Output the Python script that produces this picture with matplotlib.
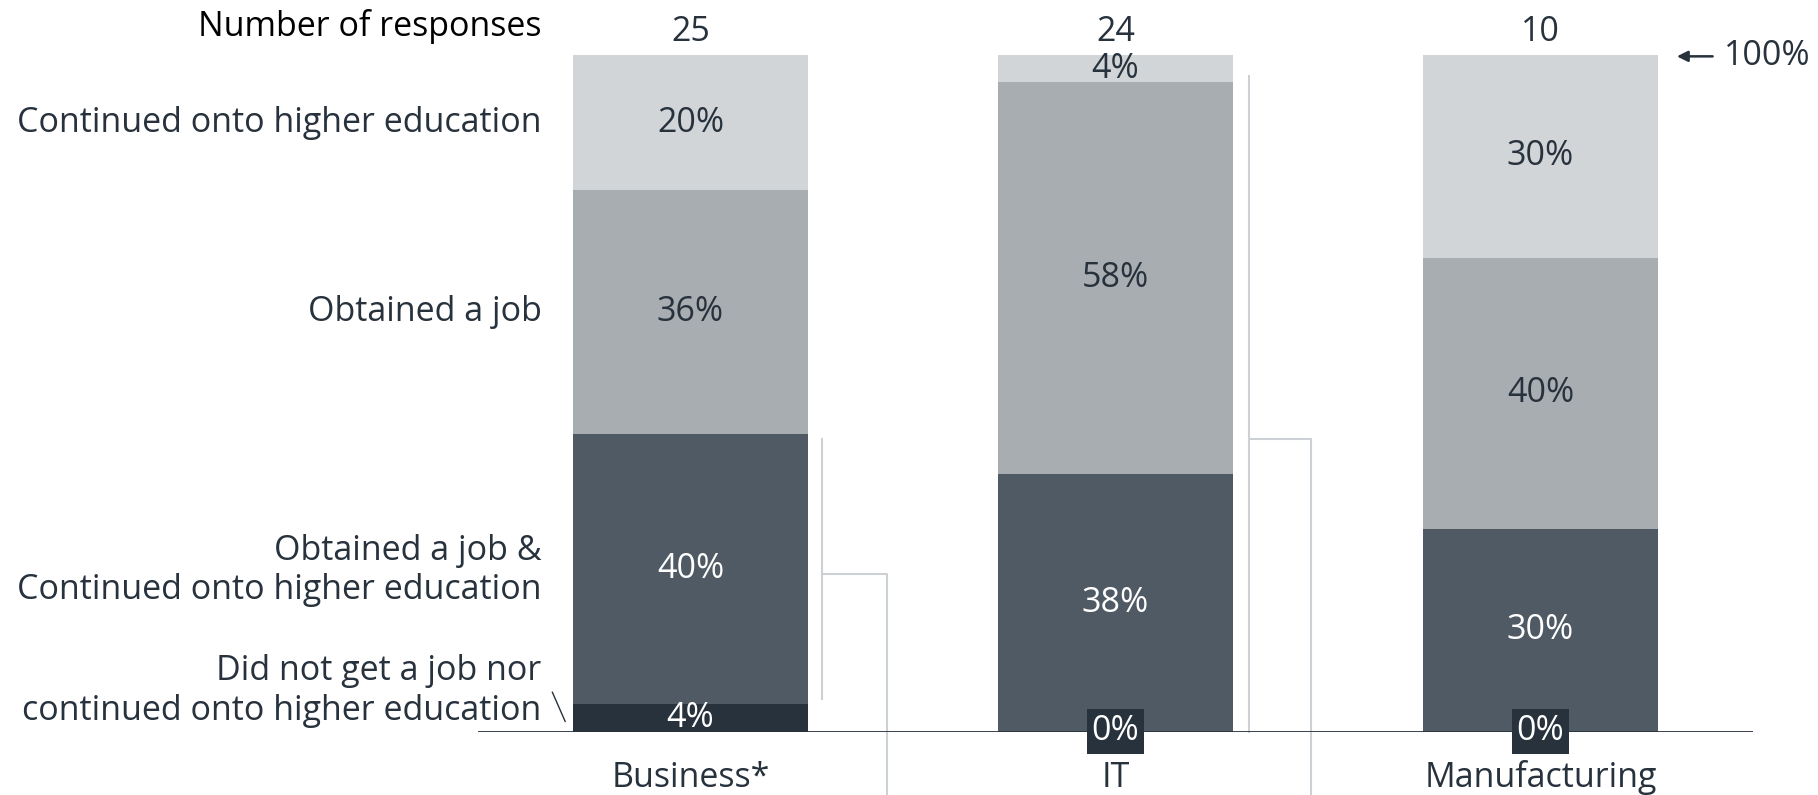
import matplotlib.pyplot as plt

plt.rcParams['font.family'] = ['Open Sans', 'DejaVu Sans']

# data
categories = ['Business*', 'IT', 'Manufacturing']
responses = [25, 24, 10]
none_pct = [4, 0, 0]        # did not get a job nor continued
both_pct = [40, 38, 30]     # job & higher education
job_pct = [36, 58, 40]      # obtained a job
edu_pct = [20, 4, 30]       # continued onto higher education

series = [none_pct, both_pct, job_pct, edu_pct]
colors = ['#27323d', '#505a65', '#a8adb1', '#d1d5d8']
text_colors = ['white', 'white', '#27323d', '#27323d']
row_labels = ['Did not get a job nor\ncontinued onto higher education',
              'Obtained a job &\nContinued onto higher education',
              'Obtained a job',
              'Continued onto higher education']

dark = '#27323d'
line_grey = '#cdd1d5'
fs = 24.5

fig = plt.figure(figsize=(18.18, 7.95), dpi=100)
ax = fig.add_axes([478 / 1818, 63.5 / 795, 1275 / 1818, 676.5 / 795])
ax.set_xlim(-0.5, 2.5)
ax.set_ylim(0, 100)
ax.axis('off')

x = range(len(categories))
bottom = [0] * len(categories)
for vals, c, tc in zip(series, colors, text_colors):
    ax.bar(x, vals, width=0.552, bottom=bottom, color=c, edgecolor='none')
    for i, v in enumerate(vals):
        if v > 0:
            ax.text(i, bottom[i] + v / 2, f'{v}%', ha='center', va='center',
                    color=tc, fontsize=fs)
    bottom = [b + v for b, v in zip(bottom, vals)]

# 0% labels on dark box at the baseline
for i, v in enumerate(none_pct):
    if v == 0:
        ax.text(i, 0, '0%', ha='center', va='center', color='white', fontsize=fs,
                bbox=dict(boxstyle='square,pad=0.15', fc=dark, ec='none'),
                zorder=5, clip_on=False)

ax.axhline(0, color=dark, lw=2, zorder=4)

# response counts
ax.text(-0.35, 104.2, 'Number of responses', ha='right', va='center',
        color='black', fontsize=fs, clip_on=False)
for i, n in enumerate(responses):
    ax.text(i, 103.4, str(n), ha='center', va='center', color=dark,
            fontsize=fs, clip_on=False)

# category labels
for i, c in enumerate(categories):
    ax.text(i, -6.8, c, ha='center', va='center', color=dark, fontsize=fs,
            clip_on=False)

# row labels on the left
label_y = [6.0, 23.8, 62.0, 89.9]
for lab, y in zip(row_labels, label_y):
    ax.text(-0.35, y, lab, ha='right', va='center', color=dark, fontsize=fs,
            linespacing=1.2, clip_on=False)
ax.plot([-0.325, -0.295], [5.8, 1.5], color=dark, lw=1, clip_on=False)

# 100% marker
ax.annotate('', xy=(2.321, 99.8), xytext=(2.405, 99.8),
            arrowprops=dict(arrowstyle='-|>', color=dark, lw=1.8,
                            mutation_scale=16, shrinkA=0, shrinkB=0),
            annotation_clip=False)
ax.text(2.431, 99.8, '100%', ha='left', va='center', color=dark,
        fontsize=fs, clip_on=False)

# bracket lines
ax.plot([0.309, 0.309], [43.3, 4.8], color=line_grey, lw=1.5, clip_on=False)
ax.plot([0.309, 0.462, 0.462], [23.3, 23.3, -9.5], color=line_grey, lw=1.5,
        clip_on=False)
ax.plot([1.315, 1.315], [96.9, 0], color=line_grey, lw=1.5, clip_on=False)
ax.plot([1.315, 1.461, 1.461], [43.3, 43.3, -9.5], color=line_grey, lw=1.5,
        clip_on=False)

fig.savefig('out.png', dpi=100)
